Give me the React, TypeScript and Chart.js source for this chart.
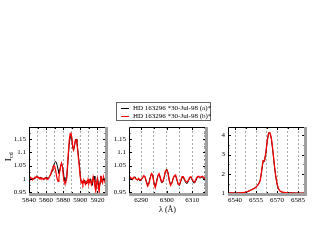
import React, { useEffect, useRef } from "react";
import { Chart, registerables } from "chart.js";

Chart.register(...registerables);

const SERIF = "'Liberation Serif', 'DejaVu Serif', serif";

const seriesLabels = ["HD 163296 *30-Jul-98 (a)*", "HD 163296 *30-Jul-98 (b)*"];
const seriesColors = ["#000000", "#ff0000"];

// Panel 1: Na D region
const naWave = [
  5840, 5841, 5842, 5843, 5844, 5845, 5846, 5847, 5848, 5849,
  5850, 5851, 5852, 5853, 5854, 5855, 5856, 5857, 5858, 5859,
  5860, 5861, 5862, 5863, 5864, 5865, 5866, 5867, 5868, 5869,
  5870, 5871, 5872, 5873, 5874, 5875, 5876, 5877, 5878, 5879,
  5880, 5881, 5882, 5883, 5884, 5885, 5886, 5887, 5888, 5889,
  5890, 5891, 5892, 5893, 5894, 5895, 5896, 5897, 5898, 5899,
  5900, 5901, 5902, 5903, 5904, 5905, 5906, 5907, 5908, 5909,
  5910, 5911, 5912, 5913, 5914, 5915, 5916, 5917, 5918, 5919,
  5920, 5921, 5922, 5923, 5924, 5925, 5926, 5927, 5928, 5929, 5930,
];
const naFluxA = [
  1.005, 1.008, 1.003, 1.0, 1.002, 0.998, 1.0, 1.004, 1.008, 1.01,
  1.007, 1.005, 1.003, 1.006, 1.002, 0.999, 1.003, 1.0, 0.998, 1.002,
  1.006, 1.003, 1.0, 1.004, 1.01, 1.012, 1.02, 1.03, 1.042, 1.052,
  1.06, 1.066, 1.062, 1.05, 1.035, 1.02, 1.03, 1.048, 1.058, 1.05,
  1.03, 1.005, 0.992, 0.99, 1.0, 1.04, 1.09, 1.13, 1.155, 1.165,
  1.15, 1.12, 1.108, 1.12, 1.14, 1.15, 1.14, 1.11, 1.08, 1.05,
  1.01, 0.99, 0.985, 0.992, 0.985, 0.995, 0.988, 0.98, 0.992, 0.995,
  0.985, 0.99, 1.0, 0.985, 0.975, 1.0, 1.01, 0.985, 0.96, 0.975,
  1.005, 0.985, 0.96, 0.985, 1.01, 1.0, 0.99, 1.005, 1.0, 0.99, 1.005,
];
const naFluxB = [
  1.008, 1.0, 1.005, 1.002, 0.996, 1.0, 1.003, 1.006, 1.005, 1.008,
  1.004, 1.006, 1.0, 1.004, 1.0, 1.002, 1.0, 0.997, 1.002, 1.004,
  1.0, 1.002, 0.998, 1.002, 1.008, 1.015, 1.025, 1.035, 1.045, 1.05,
  1.048, 1.035, 1.015, 0.998, 0.99, 1.005, 1.03, 1.05, 1.06, 1.045,
  1.015, 0.99, 0.982, 0.985, 1.005, 1.05, 1.1, 1.145, 1.17, 1.175,
  1.158, 1.125, 1.11, 1.125, 1.145, 1.148, 1.135, 1.105, 1.07, 1.04,
  1.005, 0.985, 0.99, 0.98, 0.995, 0.985, 0.978, 0.99, 0.985, 0.998,
  0.982, 0.995, 0.99, 0.978, 0.99, 1.008, 0.995, 0.97, 0.952, 0.985,
  1.0, 0.97, 0.95, 0.99, 1.012, 0.995, 0.985, 1.008, 0.995, 0.985, 1.008,
];

// Panel 2: 6300 region
const siWave = [
  6285, 6285.5, 6286, 6286.5, 6287, 6287.5, 6288, 6288.5, 6289, 6289.5,
  6290, 6290.5, 6291, 6291.5, 6292, 6292.5, 6293, 6293.5, 6294, 6294.5,
  6295, 6295.5, 6296, 6296.5, 6297, 6297.5, 6298, 6298.5, 6299, 6299.5,
  6300, 6300.5, 6301, 6301.5, 6302, 6302.5, 6303, 6303.5, 6304, 6304.5,
  6305, 6305.5, 6306, 6306.5, 6307, 6307.5, 6308, 6308.5, 6309, 6309.5,
  6310, 6310.5, 6311, 6311.5, 6312, 6312.5, 6313, 6313.5, 6314, 6314.5,
  6315, 6315.5,
];
const siFluxA = [
  1.002, 1.005, 1.0, 0.995, 1.003, 1.008, 1.0, 0.994, 0.998, 0.992,
  0.995, 1.003, 1.01, 1.005, 0.99, 0.978, 0.985, 1.005, 1.018, 1.012,
  0.985, 0.972, 0.99, 1.012, 1.018, 1.0, 0.985, 0.988, 1.005, 1.028,
  1.036, 1.025, 0.995, 0.978, 0.985, 1.002, 1.012, 1.01, 0.995, 0.978,
  0.975, 0.99, 1.005, 1.005, 0.995, 0.985, 0.982, 0.992, 1.003, 1.005,
  0.995, 0.985, 0.985, 0.995, 1.005, 1.008, 1.002, 1.006, 1.004, 1.0,
  1.004, 1.0,
];
const siFluxB = [
  1.005, 1.008, 1.003, 0.998, 1.006, 1.004, 0.998, 0.996, 1.002, 0.995,
  0.998, 1.005, 1.012, 1.008, 0.988, 0.972, 0.98, 1.002, 1.02, 1.015,
  0.982, 0.966, 0.985, 1.01, 1.02, 1.005, 0.988, 0.99, 1.008, 1.03,
  1.034, 1.02, 0.992, 0.975, 0.982, 1.0, 1.012, 1.015, 0.998, 0.98,
  0.978, 0.992, 1.008, 1.008, 0.998, 0.99, 0.988, 0.995, 1.006, 1.008,
  0.998, 0.99, 0.988, 1.0, 1.008, 1.01, 1.005, 1.008, 1.01, 1.005,
  1.002, 1.004,
];

// Panel 3: H-alpha region
const haWave = [
  6534, 6535, 6536, 6537, 6538, 6539, 6540, 6541, 6542, 6543,
  6544, 6545, 6546, 6547, 6548, 6549, 6550, 6551, 6552, 6553,
  6554, 6555, 6556, 6557, 6558, 6559, 6560, 6561, 6562, 6563,
  6564, 6565, 6566, 6567, 6568, 6569, 6570, 6571, 6572, 6573,
  6574, 6575, 6576, 6577, 6578, 6579, 6580, 6581, 6582, 6583,
  6584, 6585, 6586, 6587, 6588, 6589, 6590,
];
const haFluxA = [
  1.03, 1.02, 1.03, 1.03, 1.02, 1.03, 1.03, 1.02, 1.03, 1.03,
  1.03, 1.04, 1.05, 1.05, 1.07, 1.09, 1.12, 1.16, 1.2, 1.24,
  1.28, 1.33, 1.41, 1.52, 1.68, 2.12, 2.62, 2.64, 3.02, 3.66,
  4.12, 4.1, 3.8, 3.2, 2.5, 1.92, 1.48, 1.24, 1.13, 1.08,
  1.06, 1.05, 1.04, 1.04, 1.03, 1.03, 1.03, 1.03, 1.02, 1.02,
  1.02, 1.02, 1.02, 1.01, 1.02, 1.02, 1.02,
];
const haFluxB = [
  1.03, 1.03, 1.02, 1.03, 1.03, 1.02, 1.03, 1.03, 1.02, 1.03,
  1.03, 1.04, 1.04, 1.05, 1.06, 1.09, 1.13, 1.16, 1.19, 1.23,
  1.27, 1.32, 1.4, 1.5, 1.65, 2.15, 2.7, 2.68, 3.1, 3.72,
  4.1, 4.12, 3.85, 3.25, 2.55, 1.95, 1.5, 1.25, 1.14, 1.09,
  1.06, 1.05, 1.04, 1.04, 1.03, 1.03, 1.03, 1.02, 1.03, 1.02,
  1.02, 1.02, 1.02, 1.02, 1.01, 1.02, 1.02,
];

const naTickLabels = [5840, 5860, 5880, 5900, 5920];
const siTickLabels = [6290, 6300, 6310];
const haTickLabels = [6540, 6555, 6570, 6585];

type PanelCfg = {
  left: number; top: number; width: number; height: number;
  yWidth: number; padTop: number; padRight: number; xHeight: number;
  xMin: number; xMax: number; xStep: number; xLabels: number[];
  yMin: number; yMax: number; yStep: number;
  wave: number[]; fluxA: number[]; fluxB: number[];
  xTitle?: string; yTitle?: boolean;
};

const panels: PanelCfg[] = [
  { left: 0, top: 112, width: 110, height: 102, yWidth: 29, padTop: 15, padRight: 4, xHeight: 20,
    xMin: 5840, xMax: 5930, xStep: 10, xLabels: naTickLabels, yMin: 0.9425, yMax: 1.196, yStep: 0.05,
    wave: naWave, fluxA: naFluxA, fluxB: naFluxB, yTitle: true },
  { left: 112, top: 112, width: 98, height: 108, yWidth: 17, padTop: 15, padRight: 4, xHeight: 26,
    xMin: 6285.2, xMax: 6315.4, xStep: 5, xLabels: siTickLabels, yMin: 0.9425, yMax: 1.196, yStep: 0.05,
    wave: siWave, fluxA: siFluxA, fluxB: siFluxB, xTitle: "λ (Å)" },
  { left: 211, top: 112, width: 101, height: 102, yWidth: 17, padTop: 15, padRight: 7, xHeight: 20,
    xMin: 6535, xMax: 6590, xStep: 7.5, xLabels: haTickLabels, yMin: 0.97, yMax: 4.42, yStep: 1,
    wave: haWave, fluxA: haFluxA, fluxB: haFluxB },
];

const framePlugin = {
  id: "frame",
  afterDraw(chart: any) {
    const { ctx, chartArea } = chart;
    const { left, top, right, bottom } = chartArea;
    const xs = chart.scales.x;
    const ys = chart.scales.y;
    ctx.save();
    ctx.strokeStyle = "#000";
    ctx.lineWidth = 1;
    ctx.beginPath();
    const yt: number[] = ys.ticks.map((t: any) => t.value);
    const step = yt.length > 1 ? yt[1] - yt[0] : 1;
    for (const v of yt) {
      const y = Math.round(ys.getPixelForValue(v)) + 0.5;
      ctx.moveTo(left, y); ctx.lineTo(left + 3, y);
      ctx.moveTo(right, y); ctx.lineTo(right - 3, y);
    }
    for (let v = yt[0] - step / 2; v <= ys.max; v += step) {
      if (v < ys.min) continue;
      const y = Math.round(ys.getPixelForValue(v)) + 0.5;
      ctx.moveTo(left, y); ctx.lineTo(left + 1.5, y);
      ctx.moveTo(right, y); ctx.lineTo(right - 1.5, y);
    }
    for (const t of xs.ticks) {
      const x = Math.round(xs.getPixelForValue(t.value)) + 0.5;
      const len = t.label ? 3 : 2;
      ctx.moveTo(x, top); ctx.lineTo(x, top + len);
      ctx.moveTo(x, bottom); ctx.lineTo(x, bottom - len);
    }
    ctx.stroke();
    ctx.beginPath();
    ctx.moveTo(left + 0.5, bottom);
    ctx.lineTo(left + 0.5, top + 0.5);
    ctx.lineTo(right, top + 0.5);
    ctx.stroke();
    ctx.strokeStyle = "#a0a0a0";
    ctx.lineWidth = 3;
    ctx.beginPath();
    ctx.moveTo(right + 0.5, top);
    ctx.lineTo(right + 0.5, bottom + 0.5);
    ctx.lineTo(left, bottom + 0.5);
    ctx.stroke();
    ctx.restore();
  },
};

const yTitlePlugin = {
  id: "ytitle",
  afterDraw(chart: any) {
    const ctx = chart.ctx;
    ctx.save();
    ctx.translate(9, 45);
    ctx.rotate(-Math.PI / 2);
    ctx.fillStyle = "#000";
    ctx.textBaseline = "middle";
    ctx.font = `9px ${SERIF}`;
    const wI = ctx.measureText("I").width;
    ctx.font = `6px ${SERIF}`;
    const wS = ctx.measureText("cd").width;
    const x0 = -(wI + wS) / 2;
    ctx.font = `9px ${SERIF}`;
    ctx.fillText("I", x0, 0);
    ctx.font = `6px ${SERIF}`;
    ctx.fillText("cd", x0 + wI + 0.3, 2.5);
    ctx.restore();
  },
};

function Panel({ cfg }: { cfg: PanelCfg }) {
  const ref = useRef<HTMLCanvasElement>(null);
  useEffect(() => {
    const plugins: any[] = [framePlugin];
    if (cfg.yTitle) plugins.push(yTitlePlugin);
    const chart = new Chart(ref.current as HTMLCanvasElement, {
      type: "line",
      data: {
        datasets: [
          {
            label: seriesLabels[0],
            data: cfg.wave.map((w, i) => ({ x: w, y: cfg.fluxA[i] })),
            borderColor: seriesColors[0],
            borderWidth: 1,
            pointRadius: 0,
            order: 2,
          },
          {
            label: seriesLabels[1],
            data: cfg.wave.map((w, i) => ({ x: w, y: cfg.fluxB[i] })),
            borderColor: seriesColors[1],
            borderWidth: 1.2,
            pointRadius: 0,
            order: 1,
          },
        ],
      },
      options: {
        animation: false,
        responsive: false,
        devicePixelRatio: 1,
        events: [],
        layout: { padding: { top: cfg.padTop, right: cfg.padRight, left: 0, bottom: 0 } },
        plugins: { legend: { display: false }, tooltip: { enabled: false } },
        scales: {
          x: {
            type: "linear",
            min: cfg.xMin,
            max: cfg.xMax,
            afterFit: (s: any) => { s.height = cfg.xHeight; },
            grid: { color: "#a8a8a8", lineWidth: 1, drawTicks: false },
            border: { display: false, dash: [2, 2] },
            ticks: {
              stepSize: cfg.xStep,
              includeBounds: false,
              autoSkip: false,
              maxRotation: 0,
              padding: 2,
              color: "#000",
              font: { family: SERIF, size: 7 },
              callback: (v: any) => (cfg.xLabels.some((l) => Math.abs(l - v) < 1e-6) ? String(v) : ""),
            },
            title: cfg.xTitle
              ? { display: true, text: cfg.xTitle, color: "#000", font: { family: SERIF, size: 8 }, padding: { top: 0, bottom: 5 } }
              : { display: false },
          },
          y: {
            type: "linear",
            min: cfg.yMin,
            max: cfg.yMax,
            afterFit: (s: any) => { s.width = cfg.yWidth; },
            grid: { display: false, drawTicks: false },
            border: { display: false },
            ticks: {
              stepSize: cfg.yStep,
              includeBounds: false,
              padding: 3,
              color: "#000",
              font: { family: SERIF, size: 7 },
              callback: (v: any) => String(+Number(v).toFixed(2)),
            },
          },
        },
      } as any,
      plugins,
    });
    return () => chart.destroy();
  }, []);
  return (
    <canvas
      ref={ref}
      width={cfg.width}
      height={cfg.height}
      style={{ position: "absolute", left: cfg.left, top: cfg.top, width: cfg.width, height: cfg.height }}
    />
  );
}

export default function App() {
  return (
    <div style={{ position: "absolute", left: 0, top: 0, width: 317, height: 245, background: "#fff", overflow: "hidden" }}>
      {panels.map((p, i) => (
        <Panel key={i} cfg={p} />
      ))}
      <div
        style={{
          position: "absolute", left: 116, top: 102, width: 93, height: 17,
          border: "1px solid #666", background: "#fff",
          fontFamily: SERIF, fontSize: 7, color: "#000",
        }}
      >
        {seriesLabels.map((lab, i) => (
          <div key={i} style={{ position: "absolute", left: 0, top: 1 + i * 8, height: 8, lineHeight: "8px", whiteSpace: "nowrap" }}>
            <span style={{ position: "absolute", left: 4, top: 4, width: 8, height: 1, background: seriesColors[i] }} />
            <span style={{ position: "absolute", left: 16, top: 0 }}>{lab}</span>
          </div>
        ))}
      </div>
    </div>
  );
}
